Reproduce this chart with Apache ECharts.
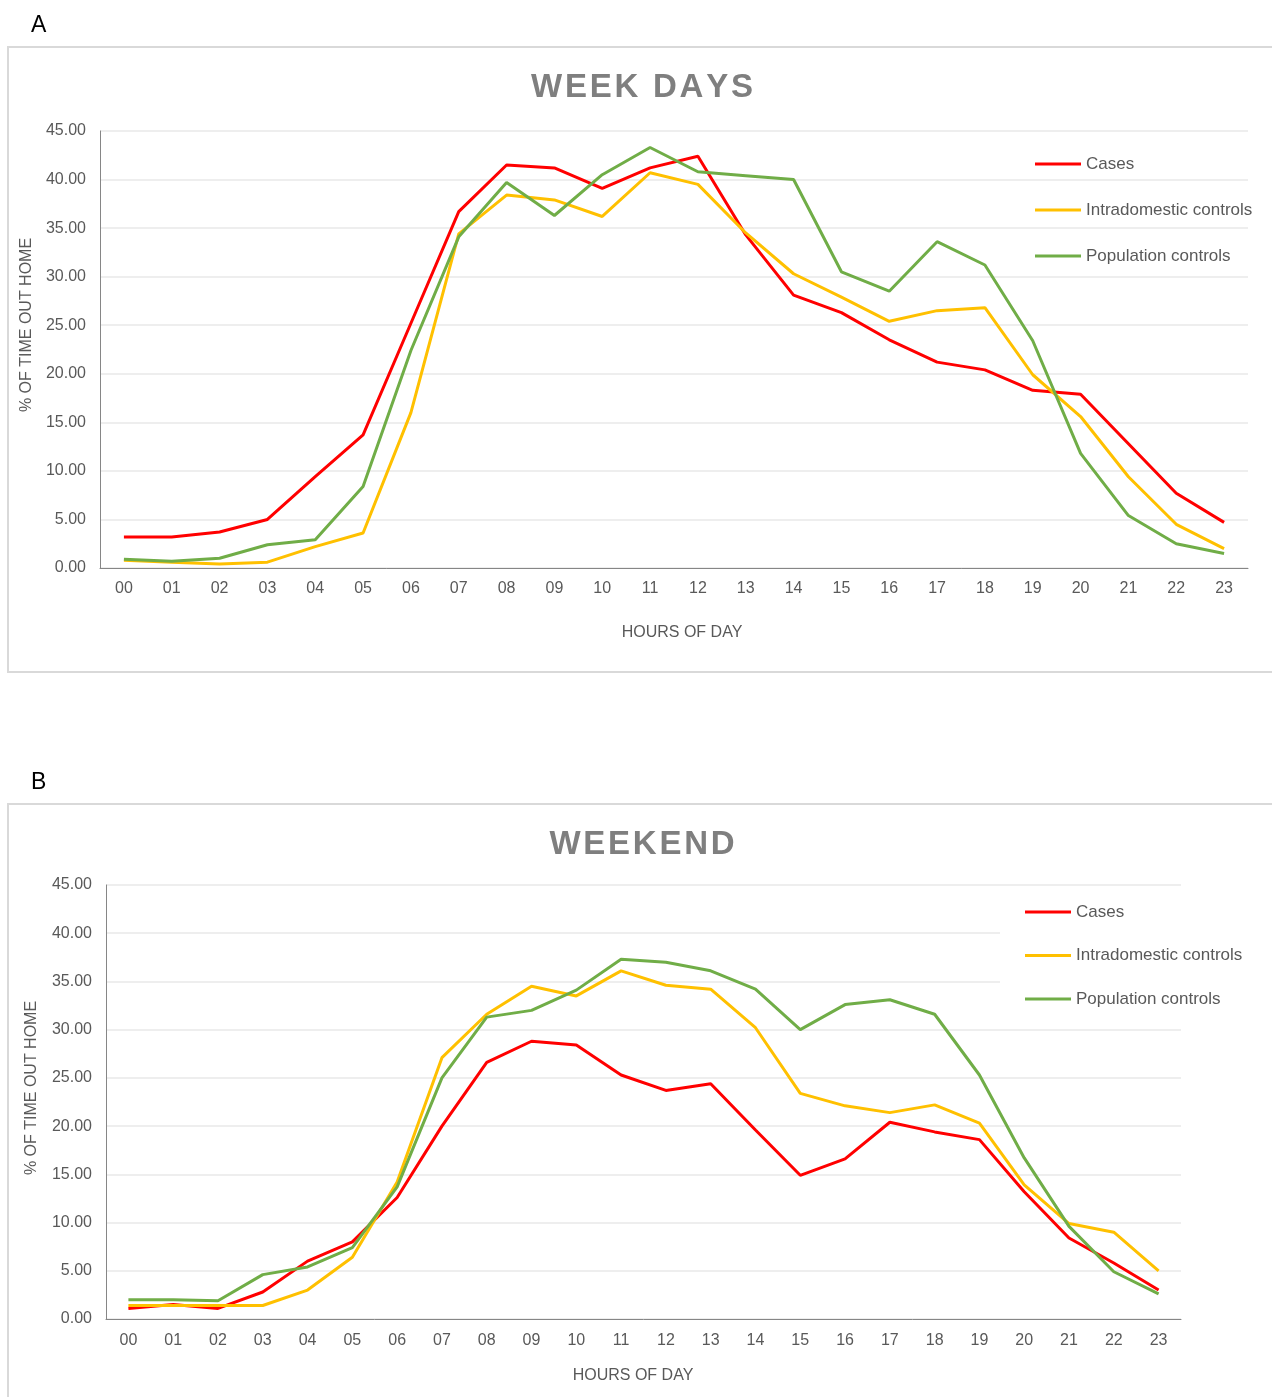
<!DOCTYPE html>
<html>
<head>
<meta charset="utf-8">
<script src="https://cdn.jsdelivr.net/npm/echarts@6/dist/echarts.min.js"></script>
<style>
  html, body { margin: 0; padding: 0; background: #fff; }
  #charts { width: 1272px; height: 1397px; }
</style>
</head>
<body>
<div id="charts"></div>
<script>
// hours of the day (x axis)
var hours = ['00','01','02','03','04','05','06','07','08','09','10','11','12','13','14','15','16','17','18','19','20','21','22','23'];
var seriesNames = ['Cases', 'Intradomestic controls', 'Population controls'];

// A - week days
var weekCases = [3.2, 3.2, 3.7, 5.0, 9.4, 13.7, 25.2, 36.7, 41.5, 41.2, 39.1, 41.2, 42.4, 34.3, 28.1, 26.3, 23.5, 21.2, 20.4, 18.3, 17.9, 12.8, 7.7, 4.7];
var weekIntra = [0.8, 0.6, 0.4, 0.6, 2.2, 3.6, 16.0, 34.4, 38.4, 37.9, 36.2, 40.7, 39.5, 34.5, 30.3, 27.9, 25.4, 26.5, 26.8, 19.9, 15.6, 9.4, 4.5, 2.0];
var weekPop = [0.9, 0.7, 1.0, 2.4, 2.9, 8.4, 22.4, 34.1, 39.7, 36.3, 40.5, 43.3, 40.8, 40.4, 40.0, 30.5, 28.5, 33.6, 31.2, 23.4, 11.8, 5.4, 2.5, 1.5];

// B - weekend
var wkndCases = [1.1, 1.5, 1.1, 2.8, 6.0, 8.0, 12.6, 20.0, 26.6, 28.8, 28.4, 25.3, 23.7, 24.4, 19.6, 14.9, 16.6, 20.4, 19.4, 18.6, 13.2, 8.4, 5.8, 3.0];
var wkndIntra = [1.4, 1.4, 1.4, 1.4, 3.0, 6.4, 14.2, 27.1, 31.6, 34.5, 33.5, 36.1, 34.6, 34.2, 30.2, 23.4, 22.1, 21.4, 22.2, 20.3, 13.9, 9.9, 9.0, 5.0];
var wkndPop = [2.0, 2.0, 1.9, 4.6, 5.4, 7.4, 13.7, 25.0, 31.3, 32.0, 34.1, 37.3, 37.0, 36.1, 34.2, 30.0, 32.6, 33.1, 31.6, 25.3, 16.7, 9.6, 4.9, 2.6];

var colors = ['#ff0000', '#ffc000', '#70ad47'];
var font = 'Liberation Sans, Arial, sans-serif';
var txt = '#595959';

// spread the title letters a little (hair spaces)
function spaced(s) {
    return s.split('').join('\u200A');
}

var myChart = echarts.init(document.getElementById('charts'));

function xAxisFor(idx, margin) {
    return {
        type: 'category',
        gridIndex: idx,
        data: hours,
        boundaryGap: true,
        axisTick: { show: false },
        axisLine: { lineStyle: { color: '#868686', width: 1 } },
        axisLabel: { color: txt, fontSize: 16, fontFamily: font, margin: margin }
    };
}
function yAxisFor(idx) {
    return {
        type: 'value',
        gridIndex: idx,
        min: 0, max: 45, interval: 5,
        axisLine: { show: true, lineStyle: { color: '#868686', width: 1 } },
        axisTick: { show: false },
        splitLine: { lineStyle: { color: '#e8e8e8', width: 1.5 } },
        axisLabel: {
            color: txt, fontSize: 16, fontFamily: font, margin: 14,
            formatter: function (v) { return v.toFixed(2); }
        }
    };
}
function lineFor(name, data, idx, color) {
    return {
        name: name, type: 'line', xAxisIndex: idx, yAxisIndex: idx,
        data: data, symbol: 'none', silent: true,
        lineStyle: { color: color, width: 3 },
        itemStyle: { color: color }
    };
}

var option = {
    animation: false,
    color: colors,
    textStyle: { fontFamily: font },
    title: [
        { text: 'A', left: 26, top: 9, textStyle: { fontSize: 23, fontWeight: 'normal', color: '#000', fontFamily: font } },
        { text: 'B', left: 26, top: 766, textStyle: { fontSize: 23, fontWeight: 'normal', color: '#000', fontFamily: font } },
        { text: spaced('WEEK DAYS'), left: 637, textAlign: 'center', top: 66, textStyle: { fontSize: 33, fontWeight: 'bold', color: '#7f7f7f', fontFamily: font } },
        { text: spaced('WEEKEND'), left: 637, textAlign: 'center', top: 823, textStyle: { fontSize: 33, fontWeight: 'bold', color: '#7f7f7f', fontFamily: font } }
    ],
    graphic: [
        { type: 'rect', shape: { x: 8, y: 47, width: 1280, height: 625 }, style: { fill: 'none', stroke: '#d9d9d9', lineWidth: 2 }, z: -1 },
        { type: 'rect', shape: { x: 8, y: 804, width: 1280, height: 620 }, style: { fill: 'none', stroke: '#d9d9d9', lineWidth: 2 }, z: -1 },
        { type: 'text', x: 27, y: 325, rotation: Math.PI / 2, style: { text: '% OF TIME OUT HOME', fill: txt, font: '16px ' + font, textAlign: 'center', textVerticalAlign: 'middle' } },
        { type: 'text', x: 682, y: 633, style: { text: 'HOURS OF DAY', fill: txt, font: '16px ' + font, textAlign: 'center', textVerticalAlign: 'middle' } },
        { type: 'text', x: 32, y: 1088, rotation: Math.PI / 2, style: { text: '% OF TIME OUT HOME', fill: txt, font: '16px ' + font, textAlign: 'center', textVerticalAlign: 'middle' } },
        { type: 'text', x: 633, y: 1376, style: { text: 'HOURS OF DAY', fill: txt, font: '16px ' + font, textAlign: 'center', textVerticalAlign: 'middle' } }
    ],
    legend: [
        {
            data: seriesNames, orient: 'vertical', left: 1030, top: 149,
            icon: 'rect', itemWidth: 46, itemHeight: 3, itemGap: 26,
            selectedMode: false,
            textStyle: { color: txt, fontSize: 17, fontFamily: font, lineHeight: 20 }
        },
        {
            data: seriesNames, orient: 'vertical', left: 1000, top: 890,
            padding: [12, 40, 12, 25], backgroundColor: '#fff',
            icon: 'rect', itemWidth: 46, itemHeight: 3, itemGap: 23.5,
            selectedMode: false,
            textStyle: { color: txt, fontSize: 17, fontFamily: font, lineHeight: 20 }
        }
    ],
    grid: [
        { left: 100, top: 131, width: 1148, height: 437 },
        { left: 106, top: 885, width: 1075, height: 434 }
    ],
    xAxis: [xAxisFor(0, 13), xAxisFor(1, 14)],
    yAxis: [yAxisFor(0), yAxisFor(1)],
    series: [
        lineFor(seriesNames[0], weekCases, 0, colors[0]),
        lineFor(seriesNames[1], weekIntra, 0, colors[1]),
        lineFor(seriesNames[2], weekPop, 0, colors[2]),
        lineFor(seriesNames[0], wkndCases, 1, colors[0]),
        lineFor(seriesNames[1], wkndIntra, 1, colors[1]),
        lineFor(seriesNames[2], wkndPop, 1, colors[2])
    ]
};
myChart.setOption(option);
</script>
</body>
</html>
